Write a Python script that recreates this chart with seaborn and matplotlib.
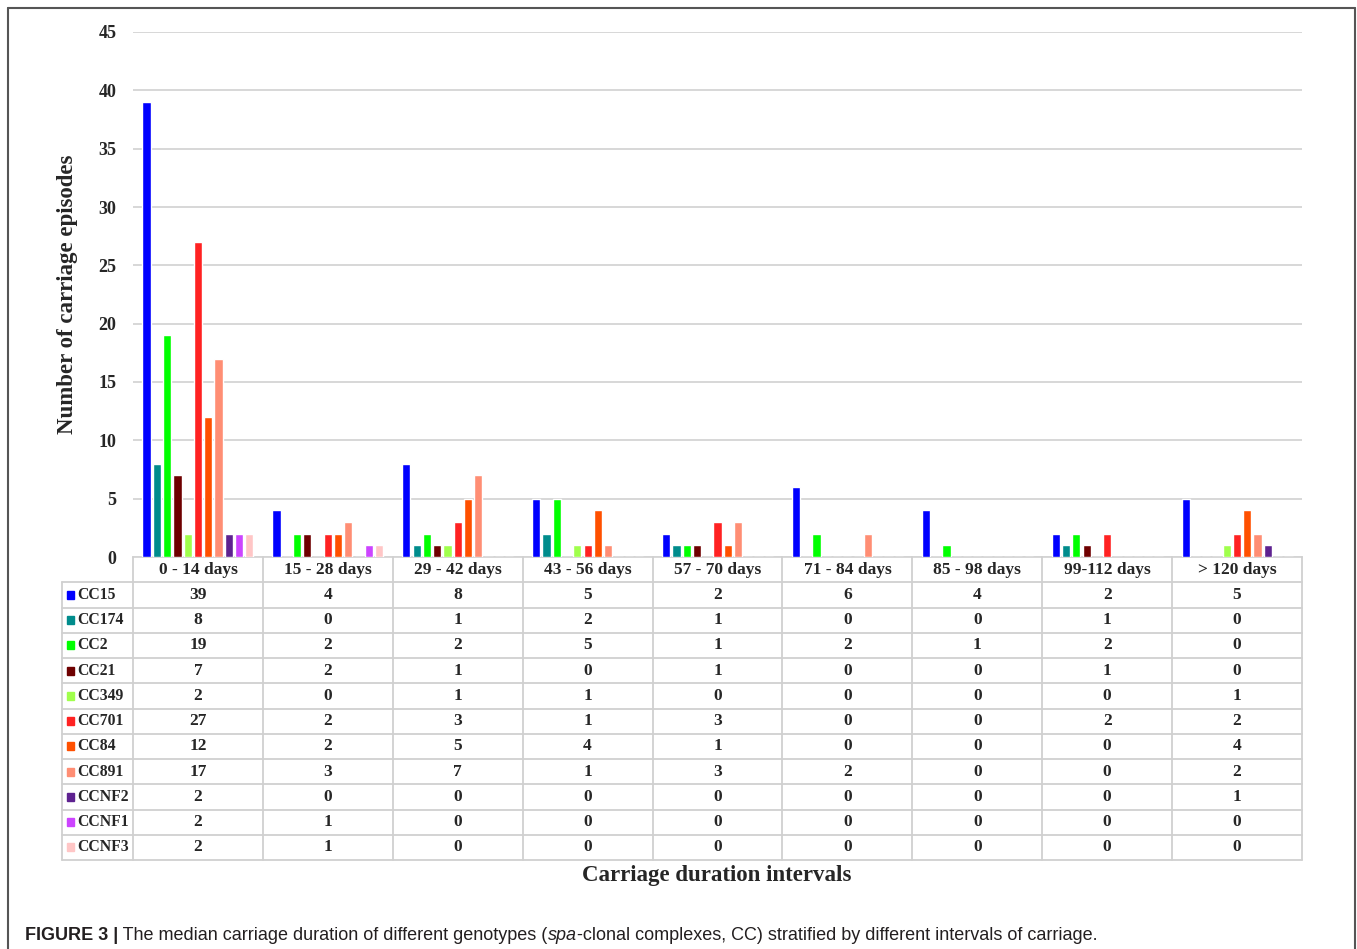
import numpy as np
import pandas as pd
import matplotlib
matplotlib.use("Agg")
import matplotlib.pyplot as plt
from matplotlib.lines import Line2D
from matplotlib.patches import Rectangle
import seaborn as sns

intervals = ["0 - 14 days", "15 - 28 days", "29 - 42 days", "43 - 56 days",
             "57 - 70 days", "71 - 84 days", "85 - 98 days", "99-112 days",
             "> 120 days"]
genotypes = ["CC15", "CC174", "CC2", "CC21", "CC349", "CC701", "CC84",
             "CC891", "CCNF2", "CCNF1", "CCNF3"]

cc15 = [39, 4, 8, 5, 2, 6, 4, 2, 5]
cc174 = [8, 0, 1, 2, 1, 0, 0, 1, 0]
cc2 = [19, 2, 2, 5, 1, 2, 1, 2, 0]
cc21 = [7, 2, 1, 0, 1, 0, 0, 1, 0]
cc349 = [2, 0, 1, 1, 0, 0, 0, 0, 1]
cc701 = [27, 2, 3, 1, 3, 0, 0, 2, 2]
cc84 = [12, 2, 5, 4, 1, 0, 0, 0, 4]
cc891 = [17, 3, 7, 1, 3, 2, 0, 0, 2]
ccnf2 = [2, 0, 0, 0, 0, 0, 0, 0, 1]
ccnf1 = [2, 1, 0, 0, 0, 0, 0, 0, 0]
ccnf3 = [2, 1, 0, 0, 0, 0, 0, 0, 0]

series = [cc15, cc174, cc2, cc21, cc349, cc701, cc84, cc891, ccnf2, ccnf1, ccnf3]

colors = {
    "CC15": "#0000FF", "CC174": "#008C8C", "CC2": "#00FF00", "CC21": "#6E0000",
    "CC349": "#A0FF4C", "CC701": "#FF2222", "CC84": "#FF5000", "CC891": "#FF8E74",
    "CCNF2": "#5E2290", "CCNF1": "#CC44FF", "CCNF3": "#FFC6C6",
}

rows = []
for g, vals in zip(genotypes, series):
    for iv, v in zip(intervals, vals):
        rows.append({"Interval": iv, "Genotype": g, "Count": v})
df = pd.DataFrame(rows)

sns.set_style("white")
SERIF = ["Liberation Serif", "DejaVu Serif"]
plt.rcParams["font.family"] = SERIF

W, H = 1357, 949
fig = plt.figure(figsize=(W / 100, H / 100), dpi=100)


def px_axes(x0, y0, x1, y1):
    return fig.add_axes([x0 / W, 1 - y1 / H, (x1 - x0) / W, (y1 - y0) / H])


ax = px_axes(133, 32, 1302, 557)
sns.barplot(data=df, x="Interval", y="Count", hue="Genotype", order=intervals,
            hue_order=genotypes, palette=colors, width=0.87, gap=0.2,
            saturation=1, legend=False, ax=ax, zorder=3)
ax.set_xlim(-0.5, 8.5)
ax.set_ylim(0, 45)
ax.set_yticks(range(0, 46, 5))
ax.yaxis.grid(True, color="#d4d4d4", linewidth=1.3, zorder=0)
ax.set_axisbelow(True)
for s in ["top", "right", "left"]:
    ax.spines[s].set_visible(False)
ax.spines["bottom"].set_color("#d4d4d4")
ax.spines["bottom"].set_linewidth(1.3)
ax.set_xticks([])
ax.set_xlabel("")
ax.set_ylabel("Number of carriage episodes", fontsize=16.5, fontweight="bold")
ax.yaxis.set_label_coords((78 - 133) / 1169, 0.5)
ax.tick_params(axis="y", length=0, pad=12)
for t in ax.get_yticklabels():
    t.set_fontweight("bold")
    t.set_fontsize(13)

# data table below the plot
tax = px_axes(62, 557, 1302, 860)
label_w = 71 / 129.9
x_left = -0.5 - label_w
tax.set_xlim(x_left, 8.5)
tax.set_ylim(12, 0)
tax.axis("off")
grid_kw = dict(color="#d0d0d0", linewidth=1.3, clip_on=False)
for r in range(1, 13):
    tax.add_line(Line2D([x_left, 8.5], [r, r], **grid_kw))
for k in range(10):
    tax.add_line(Line2D([-0.5 + k, -0.5 + k], [0, 12], **grid_kw))
tax.add_line(Line2D([x_left, x_left], [1, 12], **grid_kw))

for i, iv in enumerate(intervals):
    tax.text(i, 0.5, iv, ha="center", va="center", fontsize=12.5, fontweight="bold")
for r, (g, vals) in enumerate(zip(genotypes, series), start=1):
    tax.add_patch(Rectangle((x_left + 0.035, r + 0.34), 0.06, 0.32,
                            color=colors[g], clip_on=False))
    tax.text(x_left + 0.12, r + 0.5, g, ha="left", va="center", fontsize=11.3,
             fontweight="bold")
    for i, v in enumerate(vals):
        tax.text(i, r + 0.5, str(v), ha="center", va="center", fontsize=12.5,
                 fontweight="bold")

fig.text(717 / W, 1 - 876 / H, "Carriage duration intervals", ha="center",
         va="center", fontsize=16.5, fontweight="bold")

# outer frame
frame_kw = dict(color="#555555", linewidth=1.5, transform=fig.transFigure)
fig.add_artist(Line2D([8 / W, 8 / W], [0, 1 - 8 / H], **frame_kw))
fig.add_artist(Line2D([8 / W, 1355 / W], [1 - 8 / H, 1 - 8 / H], **frame_kw))
fig.add_artist(Line2D([1355 / W, 1355 / W], [0, 1 - 8 / H], **frame_kw))

# caption
SANS = ["Liberation Sans", "DejaVu Sans"]
renderer = fig.canvas.get_renderer()
pieces = [("FIGURE 3 |", "bold", "normal"),
          (" The median carriage duration of different genotypes (", "normal", "normal"),
          ("spa", "normal", "italic"),
          ("-clonal complexes, CC) stratified by different intervals of carriage.",
           "normal", "normal")]
xpos = 25
for txt, wt, st in pieces:
    t = fig.text(xpos / W, 1 - 935 / H, txt, ha="left", va="center",
                 fontsize=13, fontweight=wt, fontstyle=st, family=SANS,
                 color="#231f20")
    bb = t.get_window_extent(renderer=renderer)
    xpos += bb.width

fig.savefig("out.png", dpi=100)
